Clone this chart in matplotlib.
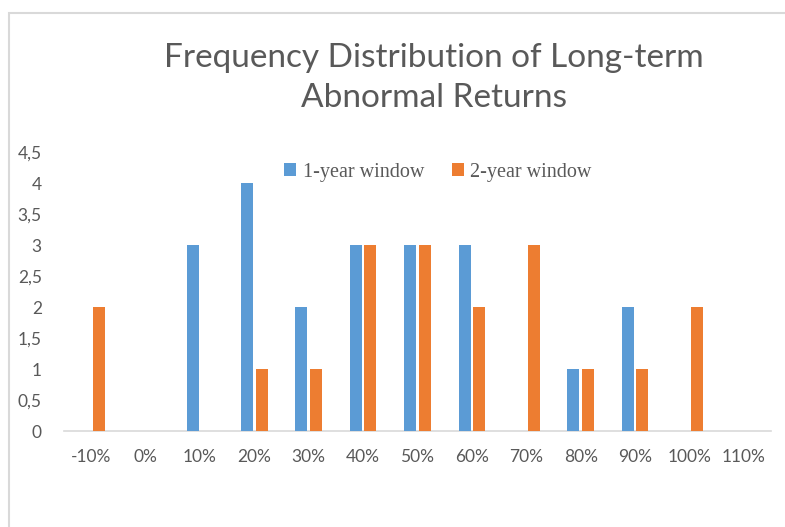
import matplotlib
matplotlib.use('Agg')
import numpy as np
import matplotlib.pyplot as plt
from matplotlib.patches import Rectangle

categories = ['-10%', '0%', '10%', '20%', '30%', '40%', '50%', '60%',
              '70%', '80%', '90%', '100%', '110%']
one_year = [0, 0, 3, 4, 2, 3, 3, 3, 0, 1, 2, 0, 0]
two_year = [2, 0, 0, 1, 1, 3, 3, 2, 3, 1, 1, 2, 0]
y_ticks = [0, 0.5, 1, 1.5, 2, 2.5, 3, 3.5, 4, 4.5]

BLUE = '#5B9BD5'
ORANGE = '#ED7D31'
GREY_TXT = '#595959'
GREY_LINE = '#D9D9D9'

W, H = 785, 527
fig = plt.figure(figsize=(W / 100, H / 100), dpi=100)

# chart border (cut off on the right and bottom in the reference)
fig.patches.append(Rectangle((9 / W, -0.1), 1.0, (H - 13) / H + 0.1,
                             transform=fig.transFigure, fill=False,
                             edgecolor=GREY_LINE, linewidth=1.5))

ax = fig.add_axes([64 / W, (H - 431) / H, (771 - 64) / W, (431 - 152) / H])

x = np.arange(len(categories))
bw = 0.22
ax.bar(x - 0.135, one_year, bw, color=BLUE, label='1-year window', zorder=3)
ax.bar(x + 0.135, two_year, bw, color=ORANGE, label='2-year window', zorder=3)

ax.set_xlim(-0.5, len(categories) - 0.5)
ax.set_ylim(0, 4.5)
ax.set_xticks(x)
ax.set_xticklabels(categories)
ax.set_yticks(y_ticks)
ax.set_yticklabels([('%g' % v).replace('.', ',') for v in y_ticks])

for s in ['top', 'right', 'left']:
    ax.spines[s].set_visible(False)
ax.spines['bottom'].set_color(GREY_LINE)
ax.spines['bottom'].set_linewidth(1.2)
ax.tick_params(length=0, colors=GREY_TXT, labelsize=12.5)
ax.tick_params(axis='x', pad=13)
ax.tick_params(axis='y', pad=16)
for lab in ax.get_xticklabels() + ax.get_yticklabels():
    lab.set_family('Lato')

fig.text(434 / W, 1 - 78 / H, 'Frequency Distribution of Long-term\nAbnormal Returns',
         ha='center', va='center', fontsize=24, color=GREY_TXT,
         family='Lato', fontweight='normal', linespacing=1.45)

leg = ax.legend(loc='center', bbox_to_anchor=((438 - 64) / (771 - 64), (431 - 172) / (431 - 152)),
                ncol=2, frameon=False, handlelength=0.6, handleheight=0.6,
                handletextpad=0.3, columnspacing=1.4,
                prop={'family': 'Liberation Serif', 'size': 14.5})
for t in leg.get_texts():
    t.set_color(GREY_TXT)

fig.savefig('out.png', dpi=100)
